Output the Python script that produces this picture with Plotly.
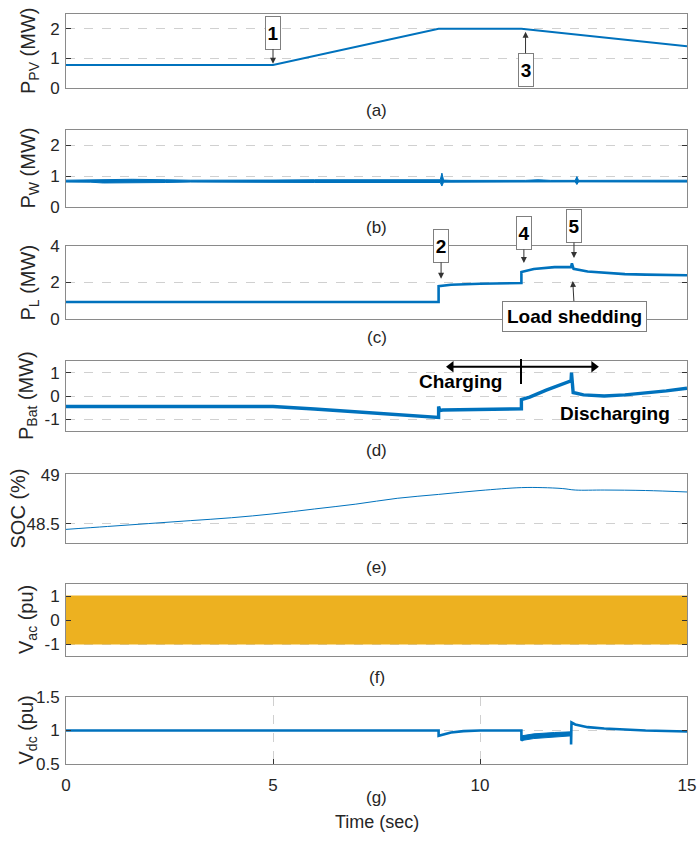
import plotly.graph_objects as go
from plotly.subplots import make_subplots

# ---------------- data ----------------
time_ticks = [0, 5, 10, 15]

t_pv = [0, 5, 9, 11, 15]
p_pv = [0.78, 0.78, 2.0, 2.0, 1.41]

t_w = [0, 0.6, 0.9, 1.6, 2.4, 3.0, 5.0, 6.0, 9.04, 9.08, 9.12, 9.3, 11.1, 11.4, 11.7, 12.3, 12.34, 12.38, 15.0]
w_up = [0.87, 0.875, 0.90, 0.90, 0.885, 0.87, 0.875, 0.885, 0.885, 1.10, 0.875, 0.865, 0.865, 0.885, 0.865, 0.865, 0.99, 0.865, 0.87]
w_lo = [0.81, 0.805, 0.78, 0.78, 0.795, 0.81, 0.805, 0.795, 0.795, 0.68, 0.805, 0.815, 0.815, 0.795, 0.815, 0.815, 0.73, 0.815, 0.81]

t_l = [0, 9.0, 9.0, 9.3, 10.0, 11.0, 11.0, 11.3, 11.8, 12.2, 12.22, 12.26, 12.6, 13.0, 13.5, 14.0, 15.0]
p_l = [0.93, 0.93, 1.80, 1.88, 1.93, 1.97, 2.58, 2.74, 2.84, 2.85, 3.05, 2.75, 2.60, 2.52, 2.46, 2.43, 2.40]

t_b = [0, 5.0, 6.0, 7.0, 8.0, 9.0, 9.0, 9.03, 9.1, 10.0, 11.0, 11.0, 11.2, 11.6, 12.0, 12.2, 12.21, 12.25, 12.5, 13.0, 13.5, 14.0, 14.5, 15.0]
p_b = [-0.45, -0.45, -0.56, -0.68, -0.80, -0.92, -0.45, -0.62, -0.60, -0.57, -0.55, -0.15, -0.05, 0.25, 0.52, 0.65, 1.00, 0.15, 0.05, 0.00, 0.05, 0.12, 0.22, 0.33]

t_soc = [0, 1, 2, 3, 4, 5, 6, 7, 8, 9, 10, 11, 11.5, 12, 12.3, 13, 14, 15]
soc = [48.44, 48.47, 48.50, 48.53, 48.56, 48.60, 48.65, 48.70, 48.76, 48.80, 48.84, 48.87, 48.87, 48.86, 48.845, 48.845, 48.84, 48.825]

t_vac = [0, 15]
vac_up = [1.0, 1.0]
vac_lo = [-1.0, -1.0]

t_dc = [0, 9.0, 9.0, 9.1, 9.3, 9.6, 10.0, 11.0, 11.0, 11.05, 11.3, 11.8, 12.2, 12.2, 12.21, 12.3, 12.6, 13.0, 13.5, 14.0, 15.0]
v_dc = [1.0, 1.0, 0.92, 0.94, 0.97, 0.99, 1.0, 1.0, 0.85, 0.88, 0.91, 0.93, 0.95, 0.79, 1.12, 1.09, 1.05, 1.03, 1.01, 1.0, 0.985]
t_dcb = [11.0, 11.3, 11.8, 12.2]
dcb_up = [0.92, 0.95, 0.97, 0.98]
dcb_lo = [0.85, 0.88, 0.90, 0.92]

captions = ["(a)", "(b)", "(c)", "(d)", "(e)", "(f)", "(g)"]
ylabels = ["P<sub>PV</sub> (MW)", "P<sub>W</sub> (MW)", "P<sub>L</sub> (MW)",
           "P<sub>Bat</sub> (MW)", "SOC (%)", "V<sub>ac</sub> (pu)", "V<sub>dc</sub> (pu)"]
yranges = [[0, 2.5], [0, 2.5], [0, 4], [-1.5, 1.5], [48.3, 49.01], [-1.5, 1.5], [0.5, 1.5]]
yticks = [[0, 1, 2], [0, 1, 2], [0, 2, 4], [-1, 0, 1], [48.5, 49], [-1, 0, 1], [0.5, 1, 1.5]]
ytick_text = [["0", "1", "2"], ["0", "1", "2"], ["0", "2", "4"], ["-1", "0", "1"],
              ["48.5", "49"], ["-1", "0", "1"], ["0.5", "1", "1.5"]]

# charge / discharge arrow ends (time, MW)
arrow_t = [9.3, 12.75]
arrow_y = [1.25, 1.25]

# ---------------- layout helpers ----------------
W, H = 698, 844
L, R, T, B = 66, 11, 14, 80
PW = W - L - R
PH = H - T - B


def yp(px):                 # pixel -> paper y
    return 1 - (px - T) / PH


def xp(px):                 # pixel -> paper x
    return (px - L) / PW


panels_px = [(14, 88), (130, 207), (246, 319), (361, 431), (474, 543), (584, 656), (697, 764)]
caption_y = [110, 227, 338, 450, 567, 677, 797]
ylabel_x = [29, 29, 29, 27, 17, 27, 27]

BLUE = "#0072BD"
GOLD = "#EDB120"
FONT = "Liberation Sans, Arial, sans-serif"
TXT = "#262626"

fig = make_subplots(rows=7, cols=1)

fig.add_trace(go.Scatter(x=t_pv, y=p_pv, mode="lines", line=dict(color=BLUE, width=2)), row=1, col=1)
fig.add_trace(go.Scatter(x=t_w + t_w[::-1], y=w_up + w_lo[::-1], mode="lines", fill="toself",
                         fillcolor=BLUE, line=dict(color=BLUE, width=1)), row=2, col=1)
fig.add_trace(go.Scatter(x=t_l, y=p_l, mode="lines", line=dict(color=BLUE, width=2.6)), row=3, col=1)
fig.add_trace(go.Scatter(x=t_b, y=p_b, mode="lines", line=dict(color=BLUE, width=3.4)), row=4, col=1)
fig.add_trace(go.Scatter(x=arrow_t, y=arrow_y, mode="lines+markers", cliponaxis=False,
                         line=dict(color="black", width=2),
                         marker=dict(symbol=["triangle-left", "triangle-right"], size=10, color="black")),
              row=4, col=1)
fig.add_trace(go.Scatter(x=t_soc, y=soc, mode="lines", line=dict(color=BLUE, width=1, shape="spline")), row=5, col=1)
fig.add_trace(go.Scatter(x=t_vac + t_vac[::-1], y=vac_up + vac_lo[::-1], mode="lines", fill="toself",
                         fillcolor=GOLD, line=dict(color=GOLD, width=1)), row=6, col=1)
fig.add_trace(go.Scatter(x=t_dcb + t_dcb[::-1], y=dcb_up + dcb_lo[::-1], mode="lines", fill="toself",
                         fillcolor=BLUE, line=dict(color=BLUE, width=1)), row=7, col=1)
fig.add_trace(go.Scatter(x=t_dc, y=v_dc, mode="lines", line=dict(color=BLUE, width=2.6)), row=7, col=1)

for i in range(7):
    n = "" if i == 0 else str(i + 1)
    top, bot = panels_px[i]
    last = (i == 6)
    fig.layout["yaxis" + n].update(
        domain=[yp(bot), yp(top)], range=yranges[i], tickvals=yticks[i], ticktext=ytick_text[i],
        showgrid=True, gridcolor="#d0d0d0", griddash="dash", gridwidth=1, automargin=False,
        zeroline=False, showline=True, linecolor="#8a8a8a", linewidth=1, mirror="ticks",
        ticks="inside", ticklen=5, tickcolor="#333333", tickwidth=1,
        tickfont=dict(family=FONT, size=17, color=TXT), ticklabelstandoff=2,
    )
    fig.layout["xaxis" + n].update(
        domain=[0, 1], range=[0, 15], showline=True, linecolor="#8a8a8a", linewidth=1, mirror=True,
        zeroline=False, automargin=False,
        showgrid=last, gridcolor="#d0d0d0", griddash="dash",
        tickvals=time_ticks, showticklabels=last,
        ticks="inside" if last else "", ticklen=5, tickcolor="#333333",
        tickfont=dict(family=FONT, size=17, color=TXT), ticklabelstandoff=6,
    )

ann = []
for i in range(7):
    ann.append(dict(xref="paper", yref="paper", x=xp(376.5), y=yp(caption_y[i]), text=captions[i],
                    showarrow=False, font=dict(family=FONT, size=17, color=TXT),
                    xanchor="center", yanchor="middle"))
    top, bot = panels_px[i]
    ann.append(dict(xref="paper", yref="paper", x=xp(ylabel_x[i]), y=yp((top + bot) / 2), text=ylabels[i],
                    showarrow=False, textangle=-90, font=dict(family=FONT, size=20, color=TXT),
                    xanchor="center", yanchor="middle"))
ann.append(dict(xref="paper", yref="paper", x=xp(376.5), y=yp(822), text="Time (sec)", showarrow=False,
                font=dict(family=FONT, size=18, color=TXT), xanchor="center", yanchor="middle"))

box = dict(bordercolor="#7f7f7f", borderwidth=1, bgcolor="white", borderpad=1,
           arrowcolor="#333333", arrowwidth=1, arrowhead=2, arrowsize=1.2, showarrow=True,
           font=dict(family=FONT, size=19, color="black"))
num = dict(width=12, height=30, **box)

ann.append(dict(xref="x", yref="y", x=5.0, y=0.82, text="<b>1</b>", ax=0, ay=-31, **num))
ann.append(dict(xref="x", yref="y", x=11.1, y=1.9, text="<b>3</b>", ax=0, ay=38, **num))
ann.append(dict(xref="x3", yref="y3", x=9.06, y=2.2, text="<b>2</b>", ax=0, ay=-33, **num))
ann.append(dict(xref="x3", yref="y3", x=11.06, y=3.07, text="<b>4</b>", ax=0, ay=-30, **num))
ann.append(dict(xref="x3", yref="y3", x=12.27, y=3.34, text="<b>5</b>", ax=0, ay=-32, **num))
ann.append(dict(xref="x3", yref="y3", x=12.24, y=2.08, text="<b>Load shedding</b>", ax=2, ay=35,
                borderpad=4, **{k: v for k, v in box.items() if k != "borderpad"}))

ann.append(dict(xref="paper", yref="paper", x=xp(460), y=yp(382), text="<b>Charging</b>", showarrow=False,
                font=dict(family=FONT, size=19, color="black"), xanchor="center", yanchor="middle"))
ann.append(dict(xref="paper", yref="paper", x=xp(615), y=yp(413), text="<b>Discharging</b>", showarrow=False,
                font=dict(family=FONT, size=19, color="black"), xanchor="center", yanchor="middle"))

shapes = [dict(type="line", xref="paper", yref="paper", x0=xp(521), x1=xp(521), y0=yp(359), y1=yp(384),
               line=dict(color="black", width=2))]

fig.update_layout(
    width=W, height=H, margin=dict(l=L, r=R, t=T, b=B, pad=0, autoexpand=False),
    paper_bgcolor="white", plot_bgcolor="white", showlegend=False,
    annotations=ann, shapes=shapes, hovermode=False,
    font=dict(family=FONT, color=TXT),
)

fig.write_html("out.html", config={"displayModeBar": False, "staticPlot": True},
               post_script="document.body.style.margin='0px';")
